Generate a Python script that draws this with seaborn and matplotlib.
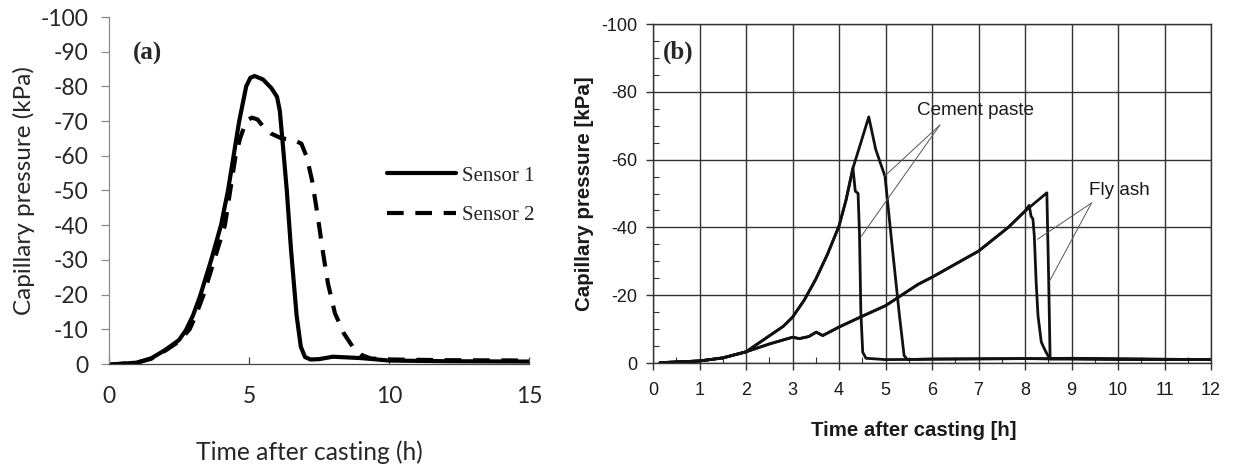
import matplotlib
matplotlib.use("Agg")
import matplotlib.pyplot as plt
import seaborn as sns
import numpy as np
import pandas as pd
from matplotlib.ticker import MultipleLocator

# ---------------- data: panel (a) ----------------
t_sensor1 = [0, 0.5, 1.0, 1.5, 2.0, 2.5, 2.75, 3.0, 3.25, 3.65, 4.0, 4.25, 4.45, 4.65,
             4.9, 5.05, 5.2, 5.5, 5.8, 6.0, 6.1, 6.2, 6.35, 6.5, 6.7, 6.85, 7.0, 7.2,
             7.5, 8.0, 9.0, 10.0, 12.0, 15.0]
p_sensor1 = [0.2, -0.1, -0.4, -1.6, -4.0, -6.9, -9.8, -14, -19.5, -30, -40, -50, -60, -70,
             -80, -82.5, -83, -82, -79.5, -77, -73, -64, -50, -33, -14, -5, -2, -1.3,
             -1.4, -2.1, -1.7, -1.0, -0.8, -0.7]
t_sensor2 = [0, 0.5, 1.0, 1.5, 2.0, 2.5, 2.88, 3.1, 3.38, 3.76, 4.14, 4.33, 4.52, 4.68,
             4.9, 5.1, 5.3, 5.5, 5.79, 6.17, 6.55, 6.87, 7.06, 7.25, 7.44, 7.63, 7.82,
             8.07, 8.39, 8.7, 9.02, 9.34, 10.1, 12.0, 15.0]
p_sensor2 = [0.2, -0.1, -0.4, -1.5, -3.8, -6.5, -10, -14, -20, -30, -40, -50, -60, -65,
             -70, -71, -70.5, -68.5, -66.4, -65, -64.7, -63.5, -59.7, -53, -43.4, -32.8, -23.2,
             -14.6, -8.8, -5, -2.6, -1.6, -1.3, -1.1, -1.0]
labels_a = ["Sensor 1", "Sensor 2"]
xticks_a = [0, 5, 10, 15]
yticks_a = [0, -10, -20, -30, -40, -50, -60, -70, -80, -90, -100]
yticklabels_a = ["0", "-10", "-20", "-30", "-40", "-50", "-60", "-70", "-80", "-90", "-100"]

# ---------------- data: panel (b) ----------------
t_cement1 = [0.15, 0.5, 1.0, 1.5, 2.0, 2.5, 2.8, 3.0, 3.25, 3.5, 3.75, 4.0, 4.15, 4.3,
             4.35, 4.41, 4.44, 4.47, 4.51, 4.58, 5.0, 6.0, 8.0, 10.0, 12.0]
p_cement1 = [-0.1, -0.3, -0.6, -1.5, -3.3, -8.0, -10.8, -13.5, -18.5, -24.7, -32, -40.4, -48, -57.5,
             -50.7, -50, -38.5, -15, -3.2, -1.4, -1.0, -1.1, -1.3, -1.1, -1.0]
t_cement2 = [0.15, 0.5, 1.0, 1.5, 2.0, 2.5, 2.8, 3.0, 3.25, 3.5, 3.75, 4.0, 4.15, 4.3,
             4.47, 4.64, 4.79, 4.99, 5.15, 5.3, 5.4, 5.47, 6.0, 8.0, 10.0, 12.0]
p_cement2 = [-0.1, -0.3, -0.6, -1.5, -3.3, -8.0, -10.8, -13.5, -18.5, -24.7, -32, -40.4, -48, -57.5,
             -65, -72.6, -63, -55, -33.5, -14, -2.2, -1.0, -1.2, -1.3, -1.1, -1.0]
t_flyash1 = [0.15, 0.5, 1.0, 1.5, 2.0, 2.5, 3.0, 3.15, 3.35, 3.51, 3.65, 4.0, 4.5, 5.0,
             5.7, 6.0, 7.0, 7.64, 8.0, 8.09, 8.13, 8.17, 8.2, 8.24, 8.28, 8.35, 8.42, 8.53,
             9.0, 10.0, 12.0]
p_flyash1 = [-0.1, -0.3, -0.6, -1.5, -3.3, -5.6, -7.6, -7.2, -7.8, -9.1, -8.1, -10.6, -13.8, -16.9,
             -23.2, -25.3, -33, -40, -44.8, -46.5, -43.3, -42.5, -37.5, -23.8, -13.9, -6.2, -4.1, -1.2,
             -1.3, -1.2, -1.0]
t_flyash2 = [0.15, 0.5, 1.0, 1.5, 2.0, 2.5, 3.0, 3.15, 3.35, 3.51, 3.65, 4.0, 4.5, 5.0,
             5.7, 6.0, 7.0, 7.64, 8.0, 8.47, 8.51, 8.54, 9.0, 10.0, 12.0]
p_flyash2 = [-0.1, -0.3, -0.6, -1.5, -3.3, -5.6, -7.6, -7.2, -7.8, -9.1, -8.1, -10.6, -13.8, -16.9,
             -23.2, -25.3, -33, -40, -44.8, -50.2, -24, -1.3, -1.4, -1.2, -1.0]
xticks_b = list(range(0, 13))
yticks_b = [0, -20, -40, -60, -80, -100]
yticklabels_b = ["0", "-20", "-40", "-60", "-80", "-100"]

# annotation texts and leader lines (data coords)
cement_label = "Cement paste"
cement_label_pos = (6.93, -74.6)
cement_leader_from = (6.17, -70.2)
cement_leader_to = [(4.98, -55.1), (4.48, -37.4)]
flyash_label = "Fly ash"
flyash_label_pos = (10.03, -51.0)
flyash_leader_from = (9.43, -47.2)
flyash_leader_to = [(8.27, -36.5), (8.53, -24.2)]

# ---------------- style ----------------
sns.set_style("white")
plt.rcParams["font.family"] = ["Liberation Sans", "DejaVu Sans"]
plt.rcParams["axes.unicode_minus"] = False

W, H = 1233, 469
fig = plt.figure(figsize=(W / 100, H / 100), dpi=100)
axA = fig.add_axes([109 / W, 1 - 364 / H, 420 / W, 347 / H])
axB = fig.add_axes([653 / W, 1 - 363 / H, 558 / W, 339 / H])

# ---------------- panel (a) ----------------
dfa1 = pd.DataFrame({"t": t_sensor1, "p": p_sensor1})
dfa2 = pd.DataFrame({"t": t_sensor2, "p": p_sensor2})
sns.lineplot(data=dfa1, x="t", y="p", ax=axA, color="black", lw=3.0,
             estimator=None, sort=False, label=labels_a[0])
sns.lineplot(data=dfa2, x="t", y="p", ax=axA, color="black", lw=3.0,
             estimator=None, sort=False, label=labels_a[1])
axA.lines[1].set_dashes([4, 2.8])
axA.set_xlim(0, 15)
axA.set_ylim(0, -100)
axA.set_xticks(xticks_a)
axA.set_xticklabels([str(v) for v in xticks_a])
axA.set_yticks(yticks_a)
axA.set_yticklabels(yticklabels_a)
for s in ["top", "right"]:
    axA.spines[s].set_visible(False)
axA.spines["left"].set_color("#8a8a8a")
axA.spines["left"].set_linewidth(0.9)
axA.spines["bottom"].set_color("#444444")
axA.spines["bottom"].set_linewidth(0.9)
axA.tick_params(axis="y", direction="out", length=6, width=0.9, color="#8a8a8a",
                pad=9, labelsize=16.5, left=True)
axA.tick_params(axis="x", direction="in", length=5, width=0.9, color="#444444",
                pad=16, labelsize=16.5, bottom=True)
for lab in axA.get_xticklabels() + axA.get_yticklabels():
    lab.set_fontfamily(["Lato", "DejaVu Sans"])
axA.set_xlabel("")
axA.set_ylabel("")
fig.text(24 / W, 1 - 191 / H, "Capillary pressure (kPa)", rotation=90, ha="center",
         va="center", fontsize=17.5, family=["Lato", "DejaVu Sans"])
fig.text(309 / W, 1 - 452 / H, "Time after casting (h)", ha="center", va="center",
         fontsize=17.7, family=["Lato", "DejaVu Sans"])
fig.text(148 / W, 1 - 53 / H, "(a)", ha="center", va="center", fontsize=18,
         fontweight="bold", family=["Liberation Serif", "DejaVu Serif"])
leg = axA.legend(loc="upper left", bbox_to_anchor=(387 / W, 1 - 166 / H),
                 bbox_transform=fig.transFigure, frameon=False, borderpad=0,
                 borderaxespad=0, handlelength=3.3, handletextpad=0.3, labelspacing=0.95,
                 prop={"family": ["Liberation Serif", "DejaVu Serif"], "size": 15})

# ---------------- panel (b) ----------------
gc = "#333333"
for tt, pp in [(t_cement1, p_cement1), (t_cement2, p_cement2),
               (t_flyash1, p_flyash1), (t_flyash2, p_flyash2)]:
    sns.lineplot(x=tt, y=pp, ax=axB, color="#111111", lw=2.0, estimator=None, sort=False)
axB.set_xlim(0, 12)
axB.set_ylim(0, -100)
axB.set_xticks(xticks_b)
axB.set_xticklabels([str(v) for v in xticks_b])
axB.set_yticks(yticks_b)
axB.set_yticklabels(yticklabels_b)
axB.xaxis.set_minor_locator(MultipleLocator(0.5))
axB.yaxis.set_minor_locator(MultipleLocator(5))
axB.grid(True, which="major", color=gc, lw=1.0)
axB.set_axisbelow(True)
for s in axB.spines.values():
    s.set_visible(True)
    s.set_color(gc)
    s.set_linewidth(1.0)
axB.tick_params(which="major", direction="out", length=5, width=1.0, color=gc,
                labelsize=13, labelcolor="#1a1a1a", left=True, bottom=True)
axB.tick_params(axis="y", which="major", pad=6)
axB.tick_params(axis="x", which="major", pad=9)
axB.tick_params(which="minor", direction="in", length=4, width=0.8, color=gc,
                left=True, bottom=True)
axB.set_xlabel("")
axB.set_ylabel("")
fig.text(585 / W, 1 - 194 / H, "Capillary pressure [kPa]", rotation=90, ha="center",
         va="center", fontsize=14.8, fontweight="bold", color="#1a1a1a")
fig.text(914 / W, 1 - 430 / H, "Time after casting [h]", ha="center", va="center",
         fontsize=14.7, fontweight="bold", color="#1a1a1a")
fig.text(678 / W, 1 - 52 / H, "(b)", ha="center", va="center", fontsize=18,
         fontweight="bold", family=["Liberation Serif", "DejaVu Serif"])

axB.text(*cement_label_pos, cement_label, ha="center", va="center", fontsize=13.6,
         color="#1a1a1a")
axB.text(*flyash_label_pos, flyash_label, ha="center", va="center", fontsize=13.6,
         color="#1a1a1a")
for src, dsts in [(cement_leader_from, cement_leader_to), (flyash_leader_from, flyash_leader_to)]:
    for d in dsts:
        axB.annotate("", xy=d, xytext=src,
                     arrowprops=dict(arrowstyle="-", color="#555555", lw=0.7,
                                     shrinkA=0, shrinkB=0))

fig.savefig("out.png", dpi=100)
